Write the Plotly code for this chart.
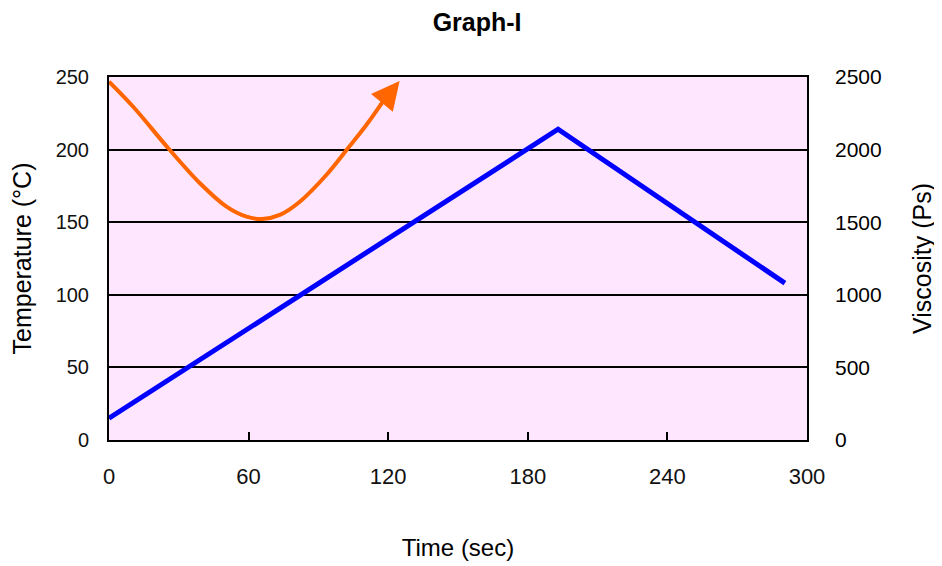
import plotly.graph_objects as go

# Temperature profile (left axis, °C)
temp_time = [0, 193, 290.5]
temp_values = [15, 214, 108]

# Viscosity curve (right axis, Ps); last point is the arrow tip
visc_time = [0, 10.4, 25.5, 39.1, 50.5, 59.1, 65.8, 73.4, 82.0, 93.4, 102.7, 110.6, 117.7, 124.9]
visc_values = [2468, 2295, 2009, 1768, 1607, 1538, 1522, 1550, 1641, 1825, 2009, 2169, 2330, 2472]

x_ticks = [0, 60, 120, 180, 240, 300]
temp_ticks = [0, 50, 100, 150, 200, 250]
visc_ticks = [0, 500, 1000, 1500, 2000, 2500]

ORANGE = "#FF6600"
BLUE = "#0000FF"

fig = go.Figure()

fig.add_trace(go.Scatter(
    x=temp_time, y=temp_values, mode="lines",
    line=dict(color=BLUE, width=5), yaxis="y", showlegend=False,
))
fig.add_trace(go.Scatter(
    x=visc_time[:-1], y=visc_values[:-1], mode="lines",
    line=dict(color=ORANGE, width=4, shape="spline"), yaxis="y2", showlegend=False,
))

fig.add_annotation(
    x=visc_time[-1], y=visc_values[-1], xref="x", yref="y2",
    ax=visc_time[-2], ay=visc_values[-2], axref="x", ayref="y2",
    showarrow=True, arrowhead=2, arrowsize=1.4, arrowwidth=4,
    arrowcolor=ORANGE, text="", standoff=0, startstandoff=0,
)

fig.update_layout(
    width=942, height=566,
    margin=dict(l=101, r=143, t=69, b=134, autoexpand=False),
    paper_bgcolor="white",
    plot_bgcolor="#FFE6FF",
    title=dict(text="<b>Graph-I</b>", x=0.498, xanchor="center", y=0.975, yanchor="middle",
               font=dict(family="Liberation Sans, Arial", size=25, color="black")),
    xaxis=dict(
        range=[0, 300], tickvals=x_ticks, ticktext=[str(v) for v in x_ticks],
        showgrid=False, zeroline=False,
        showline=True, linecolor="black", linewidth=2, mirror=True,
        ticks="inside", ticklen=8, tickwidth=1.5, tickcolor="black",
        ticklabelstandoff=16,
        tickfont=dict(family="Liberation Sans Narrow, Liberation Sans", size=22, color="#111"),
        title=dict(text="Time (sec)", standoff=51,
                   font=dict(family="Liberation Sans, Arial", size=24, color="black")),
        automargin=False,
    ),
    yaxis=dict(
        range=[0, 250], tickvals=temp_ticks,
        showgrid=True, gridcolor="black", gridwidth=1.5, zeroline=False,
        showline=True, linecolor="black", linewidth=2, mirror=True,
        ticks="", ticklabelstandoff=14,
        tickfont=dict(family="Liberation Sans, Arial", size=20, color="#111"),
        title=dict(text="Temperature (°C)", standoff=18,
                   font=dict(family="Liberation Sans, Arial", size=25, color="black")),
        automargin=False,
    ),
    yaxis2=dict(
        range=[0, 2500], tickvals=visc_ticks, overlaying="y", side="right",
        showgrid=False, zeroline=False, showline=False,
        ticks="", ticklabelstandoff=27,
        tickfont=dict(family="Liberation Sans, Arial", size=21, color="black"),
        title=dict(text="Viscosity (Ps)", standoff=32,
                   font=dict(family="Liberation Sans, Arial", size=25, color="black")),
        automargin=False,
    ),
)

fig.write_html("out.html")
